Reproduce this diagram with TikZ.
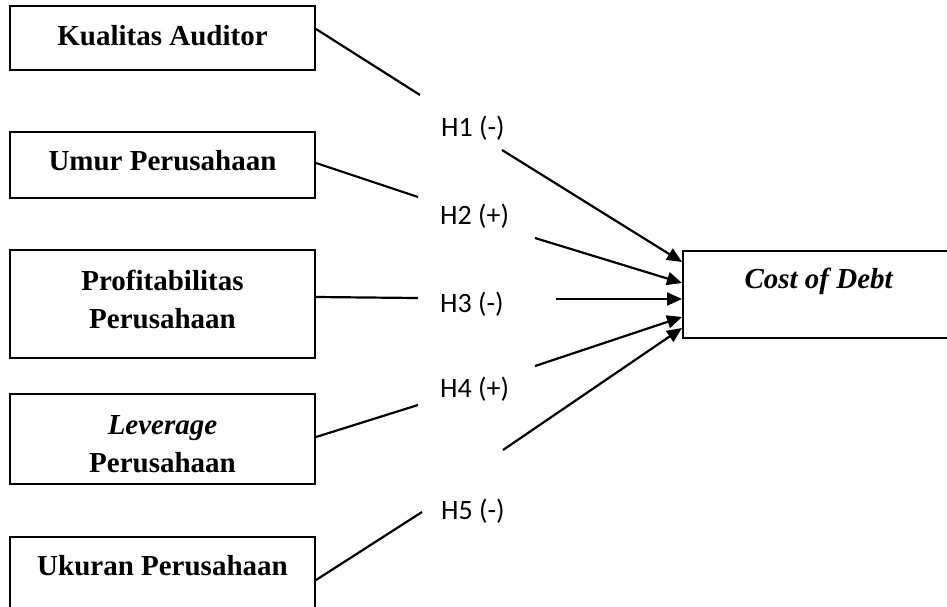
\documentclass[tikz,border=0pt]{standalone}
\usepackage{fontspec}
\setmainfont{Liberation Serif}
\newfontfamily\hypfont{Carlito}
\usepackage{tikz}
\usetikzlibrary{arrows.meta}

\begin{document}
\begin{tikzpicture}[x=1pt, y=-1pt,
    varbox/.style={draw, line width=2pt, minimum width=305pt, inner ysep=0pt, align=center,
        anchor=base, font=\fontsize{29}{38}\selectfont\bfseries},
    hyp/.style={anchor=base west, inner sep=0pt, font=\hypfont\fontsize{28}{34}\selectfont},
    link/.style={line width=2.2pt},
    arr/.style={line width=2.2pt, -{Triangle[length=15pt,width=13pt]}}]
    \useasboundingbox (0,0) rectangle (947,606);
    \clip (0,0) rectangle (947,606);
    % variabel independen
    \node[varbox, text height=39pt, text depth=25pt] (ka) at (162.5,45) {Kualitas Auditor};
    \node[varbox, text height=38pt, text depth=28pt] (up) at (162.5,170) {Umur Perusahaan};
    \node[varbox, text height=78pt, text depth=30pt] (pp) at (162.5,328) {Profitabilitas\\Perusahaan};
    \node[varbox, text height=78pt, text depth=12pt] (lp) at (162.5,472) {\textit{Leverage}\\Perusahaan};
    \node[varbox, text height=38pt, text depth=75pt] (ukp) at (162.5,575) {Ukuran Perusahaan};
    % variabel dependen
    \node[varbox, minimum width=272pt, text height=37pt, text depth=50pt] (cod) at (819,288) {\textit{Cost of Debt}};
    % hipotesis
    \node[hyp] (h1) at (441,136) {H1 (-)};
    \node[hyp] (h2) at (440,224) {H2 (+)};
    \node[hyp] (h3) at (440,312) {H3 (-)};
    \node[hyp] (h4) at (440,397) {H4 (+)};
    \node[hyp] (h5) at (441,519) {H5 (-)};
    % ujung garis di sekitar label
    \coordinate (a1) at (420,95);  \coordinate (b1) at (502,150);
    \coordinate (a2) at (418,197); \coordinate (b2) at (535,238);
    \coordinate (a3) at (418,298); \coordinate (b3) at (556,299);
    \coordinate (a4) at (418,405); \coordinate (b4) at (535,366);
    \coordinate (a5) at (422,512); \coordinate (b5) at (503,450);
    \draw[link] ([yshift=9pt]ka.east) -- (a1);
    \draw[arr] (b1) -- ([yshift=32.5pt]cod.west);
    \draw[link] ([yshift=2pt]up.east) -- (a2);
    \draw[arr] (b2) -- ([yshift=11.5pt]cod.west);
    \draw[link] ([yshift=7pt]pp.east) -- (a3);
    \draw[arr] (b3) -- ([yshift=-4.5pt]cod.west);
    \draw[link] ([yshift=2pt]lp.east) -- (a4);
    \draw[arr] (b4) -- ([yshift=-22.5pt]cod.west);
    \draw[link] ([yshift=13.5pt]ukp.east) -- (a5);
    \draw[arr] (b5) -- ([yshift=-33.5pt]cod.west);
\end{tikzpicture}
\end{document}
